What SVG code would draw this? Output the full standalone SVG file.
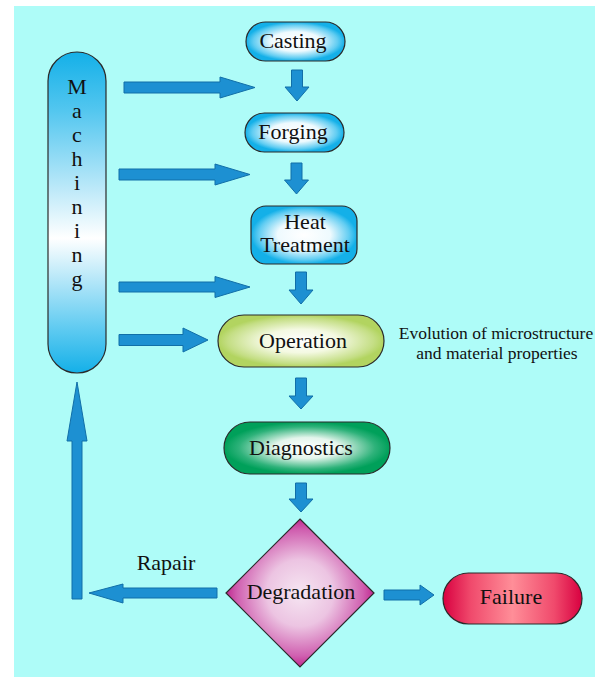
<svg xmlns="http://www.w3.org/2000/svg" width="595" height="677" viewBox="0 0 595 677">
<defs>
<radialGradient id="gCyan" cx="0.5" cy="0.5" r="0.5">
<stop offset="0" stop-color="#ffffff"/>
<stop offset="0.5" stop-color="#eefafe"/>
<stop offset="0.85" stop-color="#62cdf2"/>
<stop offset="1" stop-color="#14b0e8"/>
</radialGradient>
<linearGradient id="gMach" x1="0" y1="0" x2="0" y2="1">
<stop offset="0" stop-color="#14b0e8"/>
<stop offset="0.18" stop-color="#52c6ef"/>
<stop offset="0.58" stop-color="#ffffff"/>
<stop offset="0.86" stop-color="#60cbf1"/>
<stop offset="1" stop-color="#14b0e8"/>
</linearGradient>
<radialGradient id="gOp" cx="0.5" cy="0.5" r="0.5">
<stop offset="0" stop-color="#ffffff"/>
<stop offset="0.45" stop-color="#f4f9e2"/>
<stop offset="0.88" stop-color="#c4de84"/>
<stop offset="1" stop-color="#b2d460"/>
</radialGradient>
<radialGradient id="gDiag" cx="0.5" cy="0.5" r="0.5">
<stop offset="0" stop-color="#ffffff"/>
<stop offset="0.4" stop-color="#e4f5ec"/>
<stop offset="0.82" stop-color="#2eb27a"/>
<stop offset="1" stop-color="#00a05a"/>
</radialGradient>
<radialGradient id="gDeg" cx="0.5" cy="0.5" r="0.5">
<stop offset="0" stop-color="#f6e6f2"/>
<stop offset="0.45" stop-color="#ecc4e2"/>
<stop offset="0.85" stop-color="#d060b0"/>
<stop offset="1" stop-color="#c02890"/>
</radialGradient>
<linearGradient id="gFail" x1="0" y1="0" x2="1" y2="0">
<stop offset="0" stop-color="#d80040"/>
<stop offset="0.2" stop-color="#f04a6c"/>
<stop offset="0.5" stop-color="#ff8e98"/>
<stop offset="0.8" stop-color="#f04a6c"/>
<stop offset="1" stop-color="#d80040"/>
</linearGradient>
</defs>
<style>
.box{stroke:#2a2a2a;stroke-width:1.2}
.lbl{font-family:"Liberation Serif","Times New Roman",serif;font-size:22px;fill:#111;text-anchor:middle}
.note{font-family:"Liberation Serif","Times New Roman",serif;font-size:17.5px;fill:#111;text-anchor:middle}
.arr{fill:#1d90d2;stroke:#116fa8;stroke-width:1}
</style>
<rect x="14" y="6" width="581" height="671" fill="#aefcf8"/>

<g id="connectors">
<polygon class="arr" points="124,82 220,82 220,77 255,87.5 220,98 220,93 124,93"/>
<polygon class="arr" points="119,169 215,169 215,164 250,174.5 215,185 215,180 119,180"/>
<polygon class="arr" points="119,282 215,282 215,276.5 250,287 215,297.5 215,292 119,292"/>
<polygon class="arr" points="119,334.5 183,334.5 183,328 208,340 183,352 183,345.5 119,345.5"/>
<polygon class="arr" points="291.5,70 302.5,70 302.5,87 309,87 297,101 285,87 291.5,87"/>
<polygon class="arr" points="291,163 302,163 302,180 308.5,180 296.5,194 284.5,180 291,180"/>
<polygon class="arr" points="295.5,272 306.5,272 306.5,290 313,290 301,304 289,290 295.5,290"/>
<polygon class="arr" points="295.5,378 306.5,378 306.5,396 313,396 301,409 289,396 295.5,396"/>
<polygon class="arr" points="295.5,483 306.5,483 306.5,499 313,499 301,512 289,499 295.5,499"/>
<polygon class="arr" points="217,588 123,588 123,584 89,593 123,603 123,598 217,598"/>
<polygon class="arr" points="384,590 420,590 420,585 434,595 420,605 420,600 384,600"/>
<polygon class="arr" points="72,599 72,441 67,441 77,382 87,441 82,441 82,599"/>
<text class="lbl" x="166" y="570">Rapair</text>
</g>

<g id="machining">
<rect class="box" x="48" y="52" width="58" height="321" rx="29" fill="url(#gMach)"/>
<text class="lbl" x="77" y="94">M</text>
<text class="lbl" x="77" y="118">a</text>
<text class="lbl" x="77" y="142">c</text>
<text class="lbl" x="77" y="166">h</text>
<text class="lbl" x="77" y="190">i</text>
<text class="lbl" x="77" y="214">n</text>
<text class="lbl" x="77" y="238">i</text>
<text class="lbl" x="77" y="262">n</text>
<text class="lbl" x="77" y="286">g</text>
</g>

<g id="casting">
<rect class="box" x="246" y="22" width="99" height="39" rx="19.5" fill="url(#gCyan)"/>
<text class="lbl" x="293" y="48">Casting</text>
</g>

<g id="forging">
<rect class="box" x="245" y="113" width="99" height="39" rx="19.5" fill="url(#gCyan)"/>
<text class="lbl" x="293" y="139">Forging</text>
</g>

<g id="heat-treatment">
<rect class="box" x="251" y="206" width="106" height="58" rx="15" fill="url(#gCyan)"/>
<text class="lbl" x="305" y="229">Heat</text>
<text class="lbl" x="305" y="252">Treatment</text>
</g>

<g id="operation">
<rect class="box" x="218" y="315" width="166" height="52" rx="26" fill="url(#gOp)"/>
<text class="lbl" x="303" y="348">Operation</text>
</g>

<g id="evolution-note">
<text class="note" x="496" y="339">Evolution of microstructure</text>
<text class="note" x="497" y="359">and material properties</text>
</g>

<g id="diagnostics">
<rect class="box" x="224" y="422" width="166" height="52" rx="26" fill="url(#gDiag)"/>
<text class="lbl" x="301" y="455">Diagnostics</text>
</g>

<g id="degradation">
<polygon class="box" points="300,519 374,593 300,667 226,593" fill="url(#gDeg)"/>
<text class="lbl" x="301" y="599">Degradation</text>
</g>

<g id="failure">
<rect class="box" x="443" y="573" width="139" height="51" rx="25.5" fill="url(#gFail)"/>
<text class="lbl" x="511" y="604">Failure</text>
</g>
</svg>
